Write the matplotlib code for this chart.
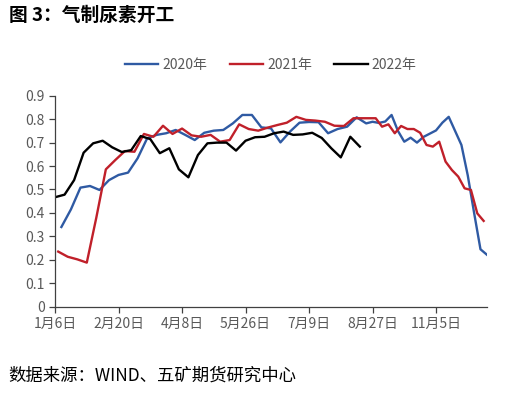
import matplotlib
matplotlib.use("Agg")
import matplotlib.pyplot as plt
import numpy as np

plt.rcParams['font.family'] = ['Noto Sans CJK SC', 'DejaVu Sans']

# weekly readings; while 2022 exists the category axis has 3 slots per week,
# after that only 2 (2020 and 2021)
v2022 = [0.467, 0.478, 0.54, 0.657, 0.697, 0.708, 0.68, 0.66, 0.668, 0.728,
         0.715, 0.655, 0.676, 0.586, 0.552, 0.647, 0.697, 0.70, 0.70, 0.666,
         0.708, 0.723, 0.725, 0.74, 0.747, 0.733, 0.735, 0.742, 0.72, 0.676,
         0.637, 0.725, 0.683]
v2021 = [0.235, 0.213, 0.202, 0.188, 0.38, 0.586, 0.626, 0.664, 0.661, 0.737,
         0.725, 0.772, 0.737, 0.76, 0.731, 0.725, 0.733, 0.704, 0.711, 0.778,
         0.758, 0.751, 0.764, 0.775, 0.785, 0.81, 0.797, 0.794, 0.789, 0.772,
         0.771, 0.804, 0.804,
         0.804, 0.804, 0.768, 0.778, 0.74, 0.771, 0.758, 0.758, 0.742, 0.69,
         0.683, 0.704, 0.619, 0.583, 0.555, 0.505, 0.498, 0.398, 0.366]
v2020 = [0.34, 0.415, 0.508, 0.515, 0.498, 0.54, 0.562, 0.572, 0.633, 0.718,
         0.733, 0.74, 0.754, 0.733, 0.711, 0.742, 0.751, 0.754, 0.782, 0.818,
         0.818, 0.765, 0.761, 0.701, 0.747, 0.785, 0.788, 0.787, 0.74, 0.758,
         0.768, 0.808, 0.782,
         0.789, 0.784, 0.79, 0.818, 0.75, 0.704, 0.721, 0.70, 0.724, 0.738,
         0.752, 0.785, 0.81, 0.75, 0.69, 0.56, 0.40, 0.245, 0.222]
tick_labels = ['1月6日', '2月20日', '4月8日', '5月26日', '7月9日', '8月27日', '11月5日']

n22 = len(v2022)


def slots(n, offset):
    # category slot of each week for a series
    idx = []
    for k in range(n):
        if k < n22:
            idx.append(3 * k + offset)
        else:
            idx.append(3 * n22 + 2 * (k - n22) + offset - 1)
    return idx


x22 = slots(len(v2022), 0)
x21 = slots(len(v2021), 1)
x20 = slots(len(v2020), 2)

fig = plt.figure(figsize=(5.05, 3.94), dpi=100)
ax = fig.add_axes([0.109, 0.2216, 0.855, 0.5354])

ax.plot(x20, v2020, color='#2f5aa3', lw=1.7, label='2020年')
ax.plot(x21, v2021, color='#c0202a', lw=1.7, label='2021年')
ax.plot(x22, v2022, color='black', lw=1.7, label='2022年')

ax.set_xlim(0, max(x20))
ax.set_ylim(0, 0.9)
ax.set_xticks(np.arange(len(tick_labels)) * 20)
ax.set_xticklabels(tick_labels)
ax.set_yticks(np.arange(0, 0.91, 0.1))
ax.set_yticklabels(['0' if t == 0 else '%.1f' % t for t in np.arange(0, 0.91, 0.1)])

for s in ['top', 'right']:
    ax.spines[s].set_visible(False)
for s in ['left', 'bottom']:
    ax.spines[s].set_color('#404040')
    ax.spines[s].set_linewidth(0.9)
ax.tick_params(axis='both', colors='#404040', labelcolor='#595959',
               labelsize=10, length=4, width=0.9, direction='out')

ax.legend(loc='lower center', bbox_to_anchor=(0.5, 1.055), ncol=3, frameon=False,
          fontsize=10, handlelength=2.4, columnspacing=1.6, handletextpad=0.3,
          labelcolor='#595959')

fig.text(0.018, 0.962, '图 3：气制尿素开工', fontsize=13.5, fontweight='bold',
         va='center', ha='left')
fig.text(0.016, 0.046, '数据来源：WIND、五矿期货研究中心', fontsize=12.5,
         va='center', ha='left')

fig.savefig('out.png', dpi=100)
